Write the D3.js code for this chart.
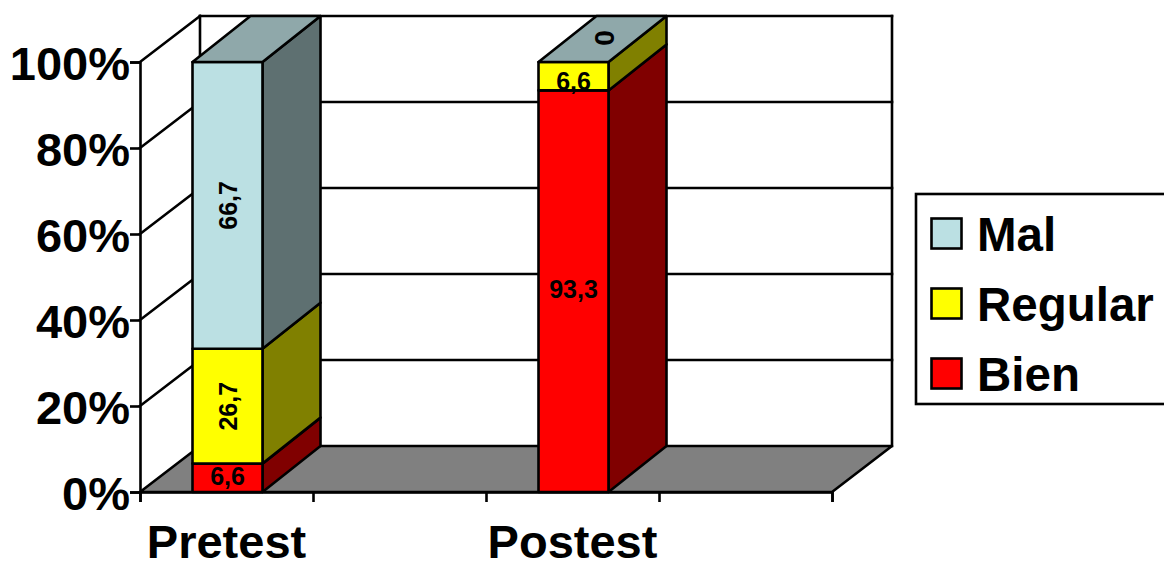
<!DOCTYPE html>
<html>
<head>
<meta charset="utf-8">
<script src="https://cdn.jsdelivr.net/npm/d3@7"></script>
<style>
  html, body { margin: 0; padding: 0; background: #fff; overflow: hidden; }
  text { font-family: "Liberation Sans", Arial, sans-serif; font-weight: bold; fill: #000; }
</style>
</head>
<body>
<svg id="chart"></svg>
<script>
/* data */
const categories = ['Pretest', 'Postest']
const slots = ['Pretest', 'vacio1', 'Postest', 'vacio2']   // el original deja una categoria vacia tras cada barra
const seriesNames = ['Bien', 'Regular', 'Mal']
const bien = [6.6, 93.3]
const regular = [26.7, 6.6]
const mal = [66.7, 0]
const yTicks = [0, 20, 40, 60, 80, 100]
const legendOrder = ['Mal', 'Regular', 'Bien']

const colors = { Bien: '#ff0000', Regular: '#ffff00', Mal: '#bbe0e3' }
const sideColors = { Bien: '#800000', Regular: '#808000', Mal: '#5e7071' }
const topColor = '#8fa8aa'

const width = 1164, height = 562
const plot = { left: 140, right: 832, top: 62, bottom: 492 }
const depth = { x: 60, y: -46 }
const barWidth = 70
const stroke = 2.6

const svg = d3.select('#chart').attr('width', width).attr('height', height)
  .style('display', 'block')

const rows = categories.map((c, i) => ({ category: c, Bien: bien[i], Regular: regular[i], Mal: mal[i] }))
const stacked = d3.stack().keys(seriesNames).offset(d3.stackOffsetExpand)(rows)

const xScale = d3.scaleBand().domain(slots).range([plot.left, plot.right])
const yScale = d3.scaleLinear().domain([0, 100]).range([plot.bottom, plot.top])

const line = (g, x1, y1, x2, y2) => g.append('line')
  .attr('x1', x1).attr('y1', y1).attr('x2', x2).attr('y2', y2)
  .attr('stroke', '#000').attr('stroke-width', stroke)
  .attr('stroke-linecap', 'square')

const poly = (g, pts, fill) => g.append('polygon')
  .attr('points', pts.map(p => p.join(',')).join(' '))
  .attr('fill', fill).attr('stroke', '#000').attr('stroke-width', stroke)
  .attr('stroke-linejoin', 'round')

/* floor and walls */
const walls = svg.append('g')
poly(walls, [
  [plot.left, plot.bottom], [plot.right, plot.bottom],
  [plot.right + depth.x, plot.bottom + depth.y], [plot.left + depth.x, plot.bottom + depth.y]
], '#808080')

yTicks.forEach(t => {
  const y = yScale(t)
  if (t > 0) {
    line(walls, plot.left, y, plot.left + depth.x, y + depth.y)
    line(walls, plot.left + depth.x, y + depth.y, plot.right + depth.x, y + depth.y)
  }
})
line(walls, plot.left + depth.x, plot.top + depth.y, plot.left + depth.x, plot.bottom + depth.y)
line(walls, plot.right + depth.x, plot.top + depth.y, plot.right + depth.x, plot.bottom + depth.y)

/* axes */
const yAxis = d3.axisLeft(yScale).tickValues(yTicks).tickSize(10).tickPadding(0)
  .tickFormat(d => d + '%')
const yAxisG = svg.append('g').attr('transform', `translate(${plot.left},0)`).call(yAxis)
yAxisG.selectAll('text').style('font-size', '47px').attr('dy', '0.38em')

const xAxis = d3.axisBottom(d3.scaleLinear().domain([plot.left, plot.right]).range([plot.left, plot.right]))
  .tickValues(slots.map(s => xScale(s)).concat(plot.right))
  .tickSize(10).tickFormat('')
svg.append('g').attr('transform', `translate(0,${plot.bottom})`).call(xAxis)

svg.selectAll('.domain, .tick line').attr('stroke', '#000').attr('stroke-width', stroke)

svg.selectAll('.cat').data(categories).enter().append('text')
  .attr('class', 'cat')
  .attr('x', d => xScale(d) + xScale.bandwidth() / 2)
  .attr('y', 558)
  .attr('text-anchor', 'middle')
  .style('font-size', '47px')
  .text(d => d)

/* bars */
const bars = svg.append('g')
categories.forEach((cat, c) => {
  const x0 = xScale(cat) + (xScale.bandwidth() - barWidth) / 2 + 1
  const x1 = x0 + barWidth
  stacked.forEach(s => {
    const yLow = yScale(s[c][0] * 100), yHigh = yScale(s[c][1] * 100)
    if (yLow === yHigh) return
    poly(bars, [[x1, yLow], [x1 + depth.x - 2, yLow + depth.y], [x1 + depth.x - 2, yHigh + depth.y], [x1, yHigh]], sideColors[s.key])
    poly(bars, [[x0, yLow], [x1, yLow], [x1, yHigh], [x0, yHigh]], colors[s.key])
  })
  const yTop = yScale(100)
  poly(bars, [[x0, yTop], [x1, yTop], [x1 + depth.x - 2, yTop + depth.y], [x0 + depth.x - 2, yTop + depth.y]], topColor)
})

/* data labels */
const labels = svg.append('g')
const fmt = v => String(v).replace('.', ',')
stacked.forEach(s => {
  categories.forEach((cat, c) => {
    const value = rows[c][s.key]
    const cx = xScale(cat) + xScale.bandwidth() / 2 + 1
    const cy = yScale((s[c][0] + s[c][1]) * 50)
    let lx = cx, ly = cy, rotate = false
    if (value === 0) {            // etiqueta del 0 sobre la cara superior
      lx = cx + depth.x / 2
      ly = cy + depth.y / 2 - 1
      rotate = true
    } else if (c === 0 && value > 10) {
      rotate = true
    } else if (c === 1 && value < 10) {
      ly = cy + 5                 // el 6,6 cae un poco bajo en el original
    } else {
      ly = cy - 2
    }
    labels.append('text')
      .attr('transform', `translate(${lx},${ly})` + (rotate ? ' rotate(-90)' : ''))
      .attr('text-anchor', 'middle')
      .attr('dy', '0.36em')
      .style('font-size', value === 0 ? '28px' : '25px')
      .text(fmt(value))
  })
})

/* legend */
const legend = svg.append('g')
legend.append('rect')
  .attr('x', 916).attr('y', 194).attr('width', 260).attr('height', 210)
  .attr('fill', '#fff').attr('stroke', '#000').attr('stroke-width', stroke)
const legendY = d3.scalePoint().domain(legendOrder).range([233.5, 373.5])
legendOrder.forEach(k => {
  legend.append('rect')
    .attr('x', 931.5).attr('y', legendY(k) - 15).attr('width', 30).attr('height', 30)
    .attr('fill', colors[k]).attr('stroke', '#000').attr('stroke-width', stroke)
  legend.append('text')
    .attr('x', 977).attr('y', legendY(k)).attr('dy', '0.36em')
    .style('font-size', '47.5px')
    .text(k)
})
</script>
</body>
</html>
